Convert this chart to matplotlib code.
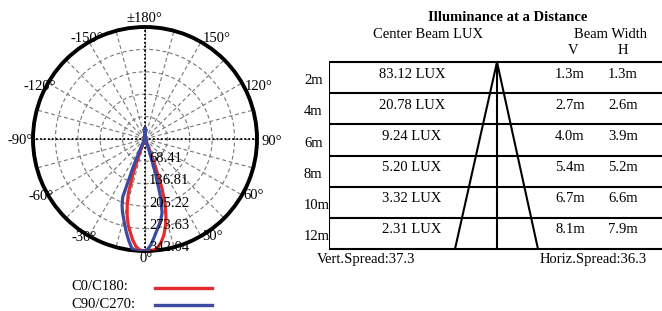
import numpy as np
import matplotlib
matplotlib.use("Agg")
import matplotlib.pyplot as plt
from matplotlib.lines import Line2D

plt.rcParams['font.family'] = ['Liberation Serif', 'DejaVu Serif']
plt.rcParams['font.size'] = 10.5

# ---------------- data ----------------
angles_deg = [-180, -175, -170, -150, -120, -90, -60, -45, -35, -30, -27, -25, -23, -21,
              -19, -17, -15, -13, -11, -9, -7, -5, -3, -1, 0, 1, 3, 5, 7, 9, 11, 13, 15,
              17, 19, 21, 23, 25, 27, 30, 35, 45, 60, 90, 120, 150, 170, 175, 180]
c0_c180 = [32, 10, 3, 2, 2, 2, 3, 4, 5, 6, 8, 10, 18, 45,
           110, 175, 210, 242, 268, 288, 310, 328, 338, 342, 342, 342, 342, 340, 332, 318, 300, 276, 248,
           212, 160, 85, 30, 14, 10, 7, 5, 4, 3, 2, 2, 2, 3, 10, 32]
c90_c270 = [32, 10, 3, 2, 2, 2, 3, 4, 6, 8, 12, 30, 90, 190,
            215, 235, 252, 272, 294, 315, 335, 342, 342, 342, 342, 340, 325, 305, 285, 268, 252, 232, 185,
            110, 45, 18, 10, 8, 7, 6, 5, 4, 3, 2, 2, 2, 3, 10, 32]
ring_values = [68.41, 136.81, 205.22, 273.63, 342.04]
theta_labels = [180, 150, 120, 90, 60, 30, 0, -30, -60, -90, -120, -150]
series_names = ["C0/C180:", "C90/C270:"]
series_colors = ["#e52b2b", "#3c4aa0"]

distances = ["2m", "4m", "6m", "8m", "10m", "12m"]
center_lux = ["83.12 LUX", "20.78 LUX", "9.24 LUX", "5.20 LUX", "3.32 LUX", "2.31 LUX"]
beam_v = ["1.3m", "2.7m", "4.0m", "5.4m", "6.7m", "8.1m"]
beam_h = ["1.3m", "2.6m", "3.9m", "5.2m", "6.6m", "7.9m"]
vert_spread = 37.3
horiz_spread = 36.3

# label offsets (pixels) from the rim point, layout only
label_offsets = {180: (-1, -9), 150: (16, -4), 120: (17, 3), 90: (15, 2), 60: (12, 0),
                 30: (12, 1), 0: (1, 7), -30: (-5, 2), -60: (-7, 2), -90: (-13, 2),
                 -120: (-8, 4), -150: (-2, -4)}

# ---------------- figure ----------------
W, H = 662, 311
fig = plt.figure(figsize=(W / 100, H / 100), dpi=100)
px2pt = 72 / 100

cx, cy, R = 145, 139, 112
ax = fig.add_axes([(cx - R) / W, (H - cy - R) / H, 2 * R / W, 2 * R / H], projection='polar')
ax.set_theta_zero_location('S')
ax.set_theta_direction(1)
rmax = ring_values[-1]
ax.set_ylim(0, rmax)
ax.set_thetagrids(np.arange(0, 360, 15), labels=[''] * 24)
ax.set_rgrids(ring_values[:-1], labels=[''] * 4)
ax.grid(True, linestyle=(0, (3.5, 2.5)), color='#777777', linewidth=0.8)
ax.spines['polar'].set_linewidth(2.8)
ax.spines['polar'].set_color('black')

for a in [0, 90, 180, 270]:
    t = np.deg2rad(a)
    ax.plot([t, t], [0, rmax], color='black', lw=1.3, linestyle=(0, (1, 1.2)), zorder=3)

th = np.deg2rad(angles_deg)
ax.plot(th, c0_c180, color=series_colors[0], lw=2.3, zorder=5)
ax.plot(th, c90_c270, color=series_colors[1], lw=2.3, zorder=6)

for v in ring_values:
    ax.annotate(f"{v:.2f}", xy=(0, v), xytext=(2.9, 2.3), textcoords='offset points',
                ha='left', va='center', zorder=7, annotation_clip=False)

for a in theta_labels:
    lab = "±180°" if a == 180 else f"{a}°"
    dx, dy = label_offsets[a]
    ax.annotate(lab, xy=(np.deg2rad(a), rmax), xytext=(dx * px2pt, -dy * px2pt),
                textcoords='offset points', ha='center', va='center', annotation_clip=False)

# legend
for i, (name, col) in enumerate(zip(series_names, series_colors)):
    yy = 1 - (287 + 17 * i) / H
    fig.text(71 / W, yy, name, ha='left', va='center')
    fig.add_artist(Line2D([155 / W, 212 / W], [yy - 1 / H, yy - 1 / H], color=col, lw=2.4,
                          transform=fig.transFigure))

# ---------------- table ----------------
tx0, ty0, ty1 = 329, 62, 249
tw = W - tx0
tax = fig.add_axes([tx0 / W, (H - ty1) / H, tw / W, (ty1 - ty0) / H])
tax.set_xlim(0, tw)
nrows = len(distances)
tax.set_ylim(nrows, 0)
tax.axis('off')

tax.hlines(range(nrows + 1), 0, tw, color='black', lw=1.5, clip_on=False)
tax.vlines(0, 0, nrows, color='black', lw=1.5)
apex = 168
tax.plot([apex, apex], [0, nrows], color='black', lw=1.5)
tax.plot([apex, 126], [0, nrows], color='black', lw=1.5)
tax.plot([apex, 209], [0, nrows], color='black', lw=1.5)

for i in range(nrows):
    tax.text(-25, i + 0.6, distances[i], ha='left', va='center', clip_on=False)
    tax.text(83, i + 0.39, center_lux[i], ha='center', va='center')
    tax.text(241, i + 0.39, beam_v[i], ha='center', va='center')
    tax.text(294, i + 0.39, beam_h[i], ha='center', va='center')

tax.text(179, -1.44, "Illuminance at a Distance", ha='center', va='center', fontweight='bold',
         clip_on=False)
tax.text(99, -0.87, "Center Beam LUX", ha='center', va='center', clip_on=False)
tax.text(281, -0.87, "Beam Width", ha='center', va='center', clip_on=False)
tax.text(244, -0.36, "V", ha='center', va='center', clip_on=False)
tax.text(294, -0.36, "H", ha='center', va='center', clip_on=False)
tax.text(-12, nrows + 0.33, f"Vert.Spread:{vert_spread}", ha='left', va='center', clip_on=False)
tax.text(211, nrows + 0.33, f"Horiz.Spread:{horiz_spread}", ha='left', va='center',
         clip_on=False)

fig.savefig("out.png", dpi=100)
